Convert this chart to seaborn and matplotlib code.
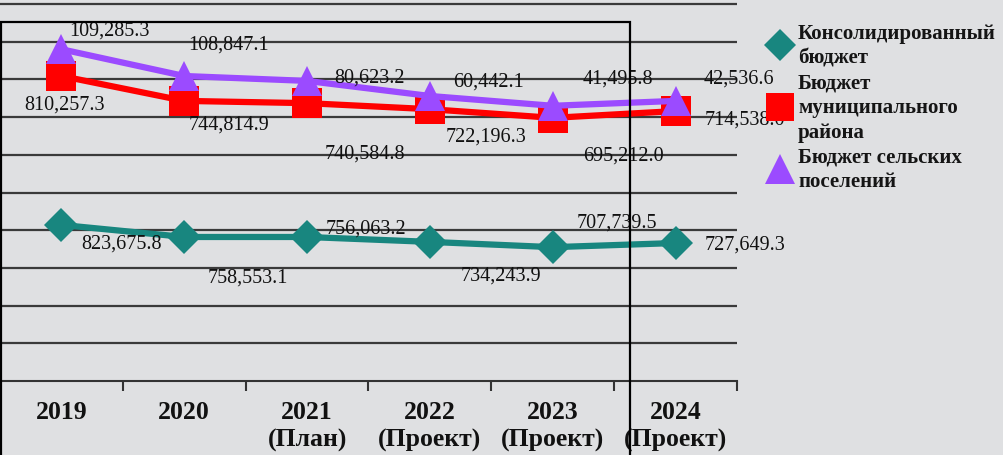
import matplotlib
matplotlib.use('Agg')
import matplotlib.pyplot as plt
from matplotlib.lines import Line2D
from matplotlib.patches import Rectangle
import numpy as np
import pandas as pd
import seaborn as sns

# categories (x axis)
years = ['2019', '2020', '2021\n(План)', '2022\n(Проект)', '2023\n(Проект)', '2024\n(Проект)']

# series names
series_names = ['Консолидированный\nбюджет',
                'Бюджет\nмуниципального\nрайона',
                'Бюджет сельских\nпоселений']

# plotted heights (chart units, one gridline = 1 unit)
consolidated = [4.14, 3.82, 3.82, 3.69, 3.55, 3.66]
municipal = [8.09, 7.43, 7.37, 7.21, 6.98, 7.16]
rural = [8.80, 8.09, 7.96, 7.56, 7.30, 7.43]

# value labels as printed on the chart
consolidated_labels = ['823,675.8', '758,553.1', '756,063.2', '734,243.9', '707,739.5', '727,649.3']
municipal_labels = ['810,257.3', '744,814.9', '740,584.8', '722,196.3', '695,212.0', '714,538.0']
rural_labels = ['109,285.3', '108,847.1', '80,623.2', '60,442.1', '41,495.8', '42,536.6']

# label offsets in pixels (dx, dy) relative to each point
consolidated_off = [(60, -18), (64, -40), (59, 9), (71, -33), (64, 25), (69, -1)]
municipal_off = [(3, -28), (45, -23), (58, -50), (56, -27), (71, -37), (69, -8)]
rural_off = [(48, 19), (44, 32), (62, 4), (59, 15), (65, 28), (63, 23)]

colors = ['#18867f', '#ff0000', '#9b4bff']
markers = ['D', 's', '^']
msizes = [17, 21, 22]

bg = '#dfe0e2'
serif = ['Liberation Serif', 'DejaVu Serif']

sns.set_theme(style='white')
plt.rcParams['font.family'] = serif

df = pd.DataFrame({
    'x': list(range(len(years))) * 3,
    'value': consolidated + municipal + rural,
    'series': [series_names[0]] * 6 + [series_names[1]] * 6 + [series_names[2]] * 6,
})

fig = plt.figure(figsize=(10.04, 4.56), dpi=100, facecolor=bg)
ax = fig.add_axes([0.0, 1 - 382 / 456, 737 / 1004, 382 / 456])
ax.set_facecolor(bg)

for i, name in enumerate(series_names):
    sub = df[df['series'] == name]
    sns.lineplot(data=sub, x='x', y='value', color=colors[i], marker=markers[i],
                 markersize=msizes[i], markeredgewidth=0, linewidth=4.5,
                 ax=ax, legend=False, zorder=3 + i)

ax.set_xlim(-0.5, len(years) - 0.5)
ax.set_ylim(0, 382 / 37.7)
ax.set_yticks(np.arange(1, 11))
ax.yaxis.grid(True, color='#3a3a3a', linewidth=1.6)
ax.set_yticklabels([])
ax.tick_params(axis='y', length=0)
ax.set_xlabel('')
ax.set_ylabel('')

ax.set_xticks(range(len(years)))
ax.set_xticklabels(years, fontsize=18.5, fontweight='bold', linespacing=1.25)
ax.set_xticks(np.arange(-0.5, len(years)), minor=True)
ax.tick_params(axis='x', which='major', length=0, pad=14, colors='#111111')
ax.tick_params(axis='x', which='minor', length=7, width=1.5, color='#333333',
               direction='out', bottom=True)

for s in ['top', 'right', 'left']:
    ax.spines[s].set_visible(False)
ax.spines['bottom'].set_color('#333333')
ax.spines['bottom'].set_linewidth(1.5)

all_vals = [consolidated, municipal, rural]
all_labels = [consolidated_labels, municipal_labels, rural_labels]
all_offs = [consolidated_off, municipal_off, rural_off]
for vals, labels, offs in zip(all_vals, all_labels, all_offs):
    for i, (v, lab, off) in enumerate(zip(vals, labels, offs)):
        ax.annotate(lab, (i, v), xytext=off, textcoords='offset pixels',
                    ha='center', va='center', fontsize=14.5, color='#111111',
                    zorder=10, annotation_clip=False)

# legend with markers only
handles = [Line2D([], [], linestyle='none', marker=markers[i], color=colors[i],
                  markersize=msizes[i] * 0.95, markeredgewidth=0)
           for i in range(3)]
leg = fig.legend(handles, series_names, loc='upper left',
                 bbox_to_anchor=(770 / 1004, 1 - 24 / 456), frameon=False,
                 handlelength=1.0, handletextpad=0.35, labelspacing=0.25,
                 borderpad=0, borderaxespad=0,
                 prop={'family': serif, 'weight': 'bold', 'size': 15})
for t in leg.get_texts():
    t.set_linespacing(1.3)
    t.set_color('#151515')

# black frame overlaid on the slide
fig.patches.append(Rectangle((1 / 1004, -0.05), 629 / 1004, 1.05 - 23 / 456,
                             transform=fig.transFigure, fill=False,
                             edgecolor='black', linewidth=1.6, zorder=20))

fig.savefig('out.png', dpi=100, facecolor=bg)
